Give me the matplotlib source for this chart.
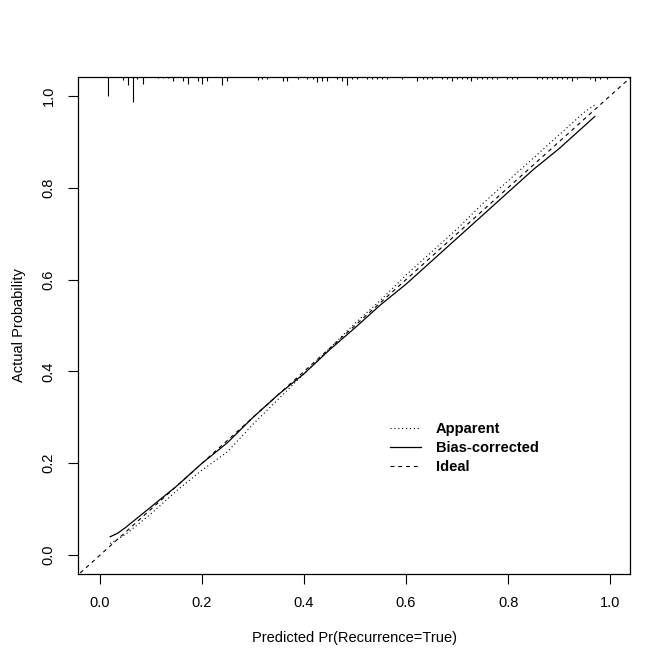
import matplotlib
matplotlib.use("Agg")
import matplotlib.pyplot as plt

plt.rcParams['font.family'] = ['Liberation Sans', 'DejaVu Sans']

# calibration curves
app_x = [0.02, 0.05, 0.10, 0.15, 0.20, 0.25, 0.30, 0.35, 0.40, 0.45, 0.50,
         0.55, 0.60, 0.65, 0.70, 0.75, 0.80, 0.85, 0.90, 0.95, 0.97]
app_y = [0.025, 0.045, 0.09, 0.14, 0.185, 0.225, 0.285, 0.34, 0.395, 0.45, 0.505,
         0.555, 0.61, 0.66, 0.71, 0.765, 0.815, 0.865, 0.915, 0.965, 0.98]

bc_x = [0.02, 0.035, 0.05, 0.10, 0.15, 0.20, 0.25, 0.30, 0.35, 0.40, 0.45,
        0.50, 0.55, 0.60, 0.65, 0.70, 0.75, 0.80, 0.85, 0.90, 0.95, 0.97]
bc_y = [0.04, 0.048, 0.06, 0.105, 0.15, 0.20, 0.245, 0.30, 0.35, 0.395, 0.447,
        0.495, 0.545, 0.59, 0.64, 0.69, 0.74, 0.79, 0.84, 0.885, 0.935, 0.955]

# rug of predicted values at the top (position, spike height)
rug_x = [0.016, 0.045, 0.055, 0.065, 0.073, 0.084, 0.114, 0.124, 0.133, 0.143,
         0.163, 0.173, 0.192, 0.200, 0.210, 0.239, 0.249,
         0.310, 0.318, 0.327, 0.359, 0.367, 0.388, 0.406, 0.418, 0.425, 0.435,
         0.445, 0.465, 0.475, 0.484, 0.494, 0.504,
         0.524, 0.533, 0.543, 0.553, 0.563, 0.592, 0.622, 0.633, 0.641, 0.651,
         0.671, 0.680, 0.690, 0.700, 0.710, 0.720, 0.727, 0.739, 0.749, 0.759,
         0.769, 0.778,
         0.798, 0.808, 0.818, 0.857, 0.867, 0.876, 0.886, 0.896, 0.906, 0.916,
         0.925, 0.935, 0.961, 0.971, 0.980, 0.994]
rug_h = [0.041, 0.007, 0.017, 0.054, 0.004, 0.015, 0.003, 0.003, 0.003, 0.009,
         0.009, 0.015, 0.009, 0.015, 0.009, 0.017, 0.009,
         0.007, 0.004, 0.004, 0.009, 0.009, 0.004, 0.004, 0.004, 0.011, 0.009,
         0.009, 0.004, 0.009, 0.017, 0.004, 0.004,
         0.004, 0.004, 0.004, 0.004, 0.004, 0.004, 0.009, 0.004, 0.004, 0.004,
         0.004, 0.004, 0.009, 0.004, 0.004, 0.004, 0.009, 0.004, 0.004, 0.004,
         0.004, 0.004,
         0.004, 0.004, 0.004, 0.004, 0.004, 0.004, 0.004, 0.004, 0.004, 0.004,
         0.009, 0.004, 0.004, 0.009, 0.004, 0.004]

ticks = [0.0, 0.2, 0.4, 0.6, 0.8, 1.0]
tick_labels = ["0.0", "0.2", "0.4", "0.6", "0.8", "1.0"]

fig = plt.figure(figsize=(6.72, 6.72), dpi=100)
ax = fig.add_axes([78 / 672, 1 - 574 / 672, 552 / 672, 497 / 672])

ax.set_xlim(-0.043, 1.039)
ax.set_ylim(-0.041, 1.041)

# ideal line across the whole box
ax.plot([-0.05, 1.05], [-0.05, 1.05], color='black', lw=0.8,
        linestyle=(0, (3.5, 3.5)), label='Ideal', zorder=2)
ax.plot(app_x, app_y, color='black', lw=0.8, linestyle=(0, (1, 2.5)),
        label='Apparent', zorder=3)
ax.plot(bc_x, bc_y, color='black', lw=0.9, linestyle='-',
        label='Bias-corrected', zorder=3)

ytop = ax.get_ylim()[1]
ax.vlines(rug_x, [ytop - h for h in rug_h], ytop, color='black', lw=0.8)

ax.set_xticks(ticks)
ax.set_xticklabels(tick_labels)
ax.set_yticks(ticks)
ax.set_yticklabels(tick_labels, rotation=90, va='center')
ax.tick_params(length=7, width=0.8, labelsize=10.5, pad=9, color='black')
for s in ax.spines.values():
    s.set_linewidth(0.9)

ax.set_xlabel('Predicted Pr(Recurrence=True)', fontsize=10.5, labelpad=15)
ax.set_ylabel('Actual Probability', fontsize=10.5, labelpad=11)

handles, labels = ax.get_legend_handles_labels()
order = [1, 2, 0]
leg = ax.legend([handles[i] for i in order], [labels[i] for i in order],
                loc='upper left', bbox_to_anchor=(390 / 672, 1 - 422 / 672),
                bbox_transform=fig.transFigure, frameon=False,
                borderpad=0, borderaxespad=0, handlelength=2.1,
                handletextpad=1.05, labelspacing=0.33,
                prop={'size': 10.5, 'weight': 'bold'})

fig.savefig('out.png', dpi=100, facecolor='white')
